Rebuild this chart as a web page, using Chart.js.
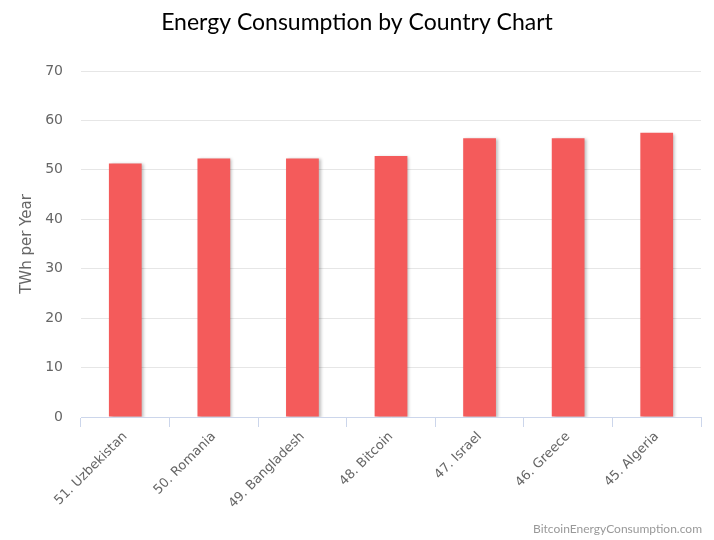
<!DOCTYPE html>
<html>
<head>
<meta charset="utf-8">
<script src="https://cdn.jsdelivr.net/npm/chart.js@4"></script>
<style>
  html, body { margin: 0; padding: 0; background: #fff; }
  #wrap { width: 714px; height: 540px; position: relative; }
</style>
</head>
<body>
<div id="wrap"><canvas id="energyChart"></canvas></div>
<script>
// Chart data
const countries = ['51. Uzbekistan', '50. Romania', '49. Bangladesh', '48. Bitcoin', '47. Israel', '46. Greece', '45. Algeria'];
const twhPerYear = [51.3, 52.3, 52.3, 52.8, 56.4, 56.4, 57.5];
const yTicks = [0, 10, 20, 30, 40, 50, 60, 70];

const chartTitle = 'Energy Consumption by Country Chart';
const creditText = 'BitcoinEnergyConsumption.com';

// Title and credits drawn on the canvas
const textPlugin = {
    id: 'textPlugin',
    afterDraw(chart) {
        const ctx = chart.ctx;
        ctx.save();
        ctx.fillStyle = '#000';
        ctx.font = '23px Lato';
        ctx.textAlign = 'center';
        ctx.textBaseline = 'middle';
        ctx.fillText(chartTitle, 357, 23);
        ctx.fillStyle = '#999';
        ctx.font = '12px Lato';
        ctx.textAlign = 'right';
        ctx.fillText(creditText, 702, 529);
        ctx.restore();
    }
};

// Soft shadow behind the bars
const shadowPlugin = {
    id: 'barShadow',
    beforeDatasetsDraw(chart) {
        const ctx = chart.ctx;
        ctx.save();
        ctx.shadowColor = 'rgba(0, 0, 0, 0.25)';
        ctx.shadowBlur = 3;
        ctx.shadowOffsetX = 2;
        ctx.shadowOffsetY = 1;
    },
    afterDatasetsDraw(chart) {
        chart.ctx.restore();
    }
};

function initializeChart() {
    const ctx = document.getElementById('energyChart').getContext('2d');
    new Chart(ctx, {
        type: 'bar',
        data: {
            labels: countries,
            datasets: [{
                label: 'TWh per Year',
                data: twhPerYear,
                backgroundColor: '#f45b5b',
                borderWidth: 0,
                barPercentage: 0.37,
                categoryPercentage: 1
            }]
        },
        options: {
            responsive: true,
            maintainAspectRatio: false,
            animation: false,
            layout: {
                padding: { top: 71, right: 13, bottom: 0, left: 0 }
            },
            scales: {
                x: {
                    grid: {
                        drawOnChartArea: false,
                        color: '#ccd6eb',
                        tickLength: 10,
                        offset: true
                    },
                    border: { color: '#ccd6eb' },
                    ticks: {
                        color: '#666',
                        font: { family: 'DejaVu Sans', size: 13 },
                        minRotation: 45,
                        maxRotation: 45,
                        padding: 2
                    },
                    afterFit: (scale) => { scale.height = 123; }
                },
                y: {
                    min: 0,
                    max: 70,
                    afterBuildTicks: (scale) => {
                        scale.ticks = yTicks.map(v => ({ value: v }));
                    },
                    grid: {
                        color: '#e6e6e6',
                        drawTicks: false
                    },
                    border: { display: false },
                    ticks: {
                        color: '#666',
                        font: { family: 'DejaVu Sans', size: 14 },
                        padding: 18
                    },
                    title: {
                        display: true,
                        text: 'TWh per Year',
                        color: '#666',
                        font: { family: 'DejaVu Sans', size: 15 },
                        padding: { top: 18, bottom: 0 }
                    },
                    afterFit: (scale) => { scale.width = 81; }
                }
            },
            plugins: {
                legend: { display: false },
                tooltip: { enabled: false },
                title: { display: false }
            }
        },
        plugins: [shadowPlugin, textPlugin]
    });
}

document.addEventListener('DOMContentLoaded', initializeChart);
</script>
</body>
</html>
